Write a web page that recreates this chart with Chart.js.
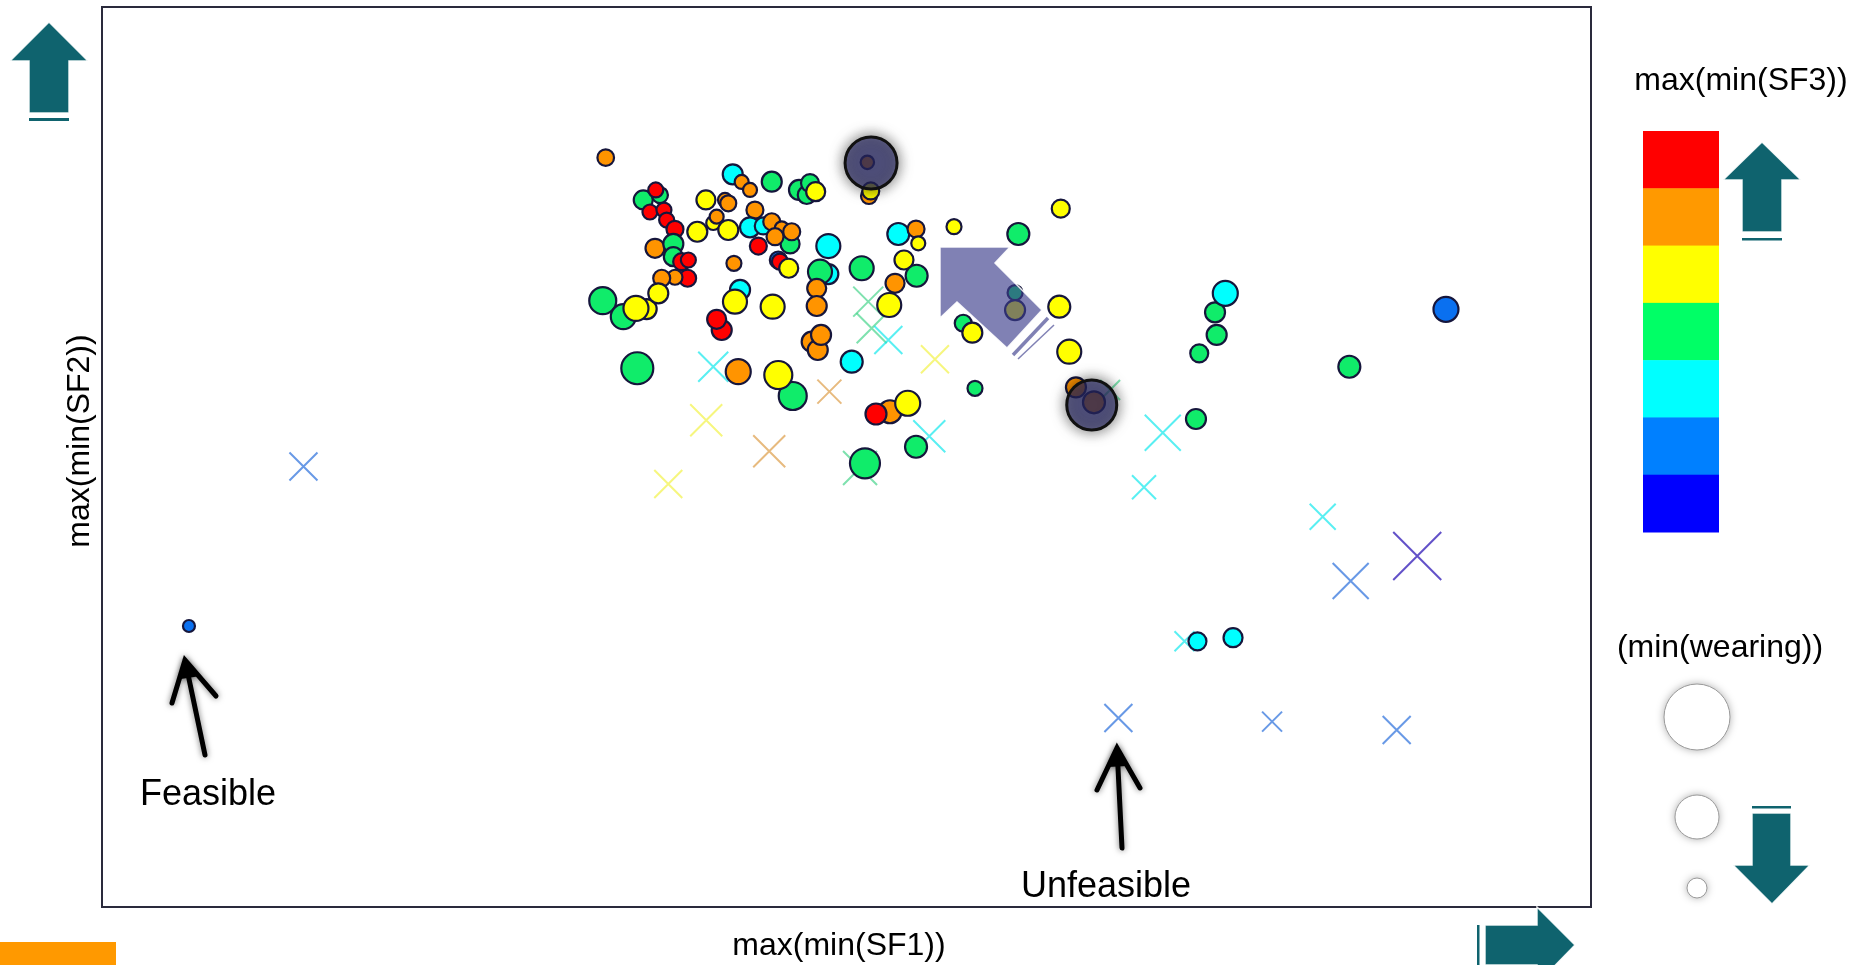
<!DOCTYPE html>
<html>
<head>
<meta charset="utf-8">
<script src="https://cdn.jsdelivr.net/npm/chart.js@4.4.1/dist/chart.umd.min.js"></script>
<style>
  html, body { margin:0; padding:0; background:#fff; overflow:hidden; }
  canvas { display:block; }
</style>
</head>
<body>
<canvas id="chart" width="1852" height="965"></canvas>
<script>
// feasible solutions (circles): SF1, SF2, wearing (size), SF3 level (colour, 1..7)
const circleSF1 = [33.83, 51.40, 51.51, 51.63, 42.36, 42.96, 43.52, 44.98, 46.81, 47.33, 47.55, 47.93,
  36.35, 37.47, 37.19, 36.80, 37.74, 37.92, 38.48, 40.56, 41.84, 42.06, 41.05, 41.28, 39.98, 42.06,
  43.85, 43.52, 44.41, 46.21, 44.98, 45.65, 46.32, 45.20, 44.08, 48.78, 53.48, 54.67, 54.82, 57.22,
  61.54, 37.14, 38.37, 38.37, 38.93, 39.38, 39.33, 38.48, 37.59, 42.44, 45.42, 45.53, 46.12, 48.78,
  48.22, 51.02, 53.86, 54.71, 53.26, 52.87, 48.00, 48.00, 42.85, 42.51, 45.04, 33.63, 35.01, 36.58,
  35.86, 37.36, 41.62, 41.28, 47.66, 48.07, 48.29, 50.35, 35.95, 42.73, 46.39, 45.42, 58.63, 52.92,
  51.98, 54.11, 54.67, 51.24, 57.84, 58.45, 61.32, 61.32, 64.39, 64.29, 64.96, 65.41, 66.62, 73.47,
  74.75, 75.44, 74.86, 73.69, 90.26, 83.77, 73.57, 75.96, 5.84];
const circleSF2 = [83.26, 82.74, 79.00, 79.56, 81.41, 80.56, 79.67, 80.59, 79.67, 79.11, 80.44, 79.48,
  78.56, 79.11, 79.67, 77.22, 77.44, 76.33, 75.30, 78.56, 78.56, 78.19, 76.00, 76.70, 75.03, 75.22,
  77.44, 75.52, 75.67, 73.67, 76.14, 75.41, 75.03, 74.48, 73.44, 73.44, 74.78, 75.33, 73.74, 75.59,
  74.78, 73.19, 73.67, 72.26, 71.70, 71.89, 69.86, 69.97, 69.86, 71.52, 71.89, 71.70, 70.97, 70.33,
  70.59, 70.97, 71.89, 70.14, 69.30, 66.89, 68.74, 66.78, 68.56, 67.26, 66.70, 67.37, 65.59, 66.44,
  66.52, 68.19, 64.11, 65.30, 62.81, 61.89, 63.56, 60.59, 59.86, 59.48, 56.78, 59.11, 57.63, 55.03,
  54.78, 55.97, 51.14, 49.30, 64.86, 63.81, 68.26, 66.33, 77.59, 66.70, 61.70, 57.74, 56.08, 54.22,
  66.08, 68.19, 63.56, 61.52, 66.41, 60.03, 29.52, 29.92, 31.22];
const circleWear = [8.3, 6.7, 8, 8.5, 10, 7, 7, 10, 10, 9, 9, 9.5,
  9.5, 8, 7.5, 7.5, 7.5, 7.5, 8.5, 9.5, 7, 8, 7, 7, 10, 10,
  8.5, 10, 8.5, 9.5, 8.5, 7, 8.5, 8.5, 8.5, 12, 11, 8.5, 7, 7.5,
  11, 9.5, 10, 9.5, 8.5, 7.5, 8.5, 7.5, 8.5, 7.5, 8.5, 8, 9.5, 10,
  12, 12, 9.5, 11, 9.5, 12, 9.5, 10, 10, 12, 12, 13.5, 12.5, 10,
  12.5, 10, 10, 9.5, 10, 10, 10, 11, 16, 12.5, 14, 14, 7.5, 11.5,
  10.5, 12.5, 11, 15, 8.5, 10, 7.5, 10, 9, 11, 12, 10, 11, 10,
  10, 12.5, 10, 9, 12.5, 11, 9, 9.5, 6];
const circleSF3 = [6, 6, 6, 5, 3, 6, 6, 4, 4, 4, 4, 5,
  4, 4, 7, 7, 7, 7, 7, 5, 6, 6, 5, 6, 5, 5,
  6, 3, 3, 4, 6, 6, 6, 6, 7, 3, 3, 6, 5, 5,
  4, 6, 4, 4, 7, 7, 7, 6, 6, 6, 2, 7, 5, 3,
  4, 4, 5, 4, 6, 5, 6, 6, 3, 5, 5, 4, 4, 5,
  5, 5, 7, 7, 6, 6, 6, 3, 4, 6, 4, 5, 4, 6,
  7, 5, 4, 4, 4, 5, 4, 5, 5, 5, 5, 6, 6, 4,
  4, 3, 4, 4, 2, 4, 3, 3, 2];

// unfeasible solutions (crosses)
const crossSF1 = [51.46, 51.69, 52.81, 55.94, 41.05, 48.85, 40.58, 44.81, 55.56, 50.91, 38.03,
  71.24, 69.98, 81.98, 83.86, 88.33, 86.95, 68.26, 78.58, 13.53, 72.70, 67.70];
const crossSF2 = [67.26, 64.30, 63.00, 60.86, 60.03, 57.26, 54.08, 50.63, 52.30, 48.78, 47.00,
  52.70, 46.63, 43.37, 36.22, 39.00, 19.67, 21.00, 20.60, 48.94, 29.52, 57.44];
const crossWear = [15, 15, 14, 14, 15, 12, 16, 16, 16, 17, 14,
  18, 12, 13, 18, 24, 14, 14, 10, 14, 10, 10];
const crossSF3 = [4, 4, 3, 5, 3, 6, 5, 6, 3, 4, 5,
  3, 3, 3, 2, 1, 2, 2, 2, 2, 3, 4];

// selected solutions
const pickSF1 = [51.65, 66.47];
const pickSF2 = [82.67, 55.78];
const pickWear = [26, 25];

// colour scale (top = high SF3)
const levelColors = ['#ff0000', '#ff9900', '#ffff00', '#00ff66', '#00ffff', '#0080ff', '#0000ff'];
const circleColors = {7:'#ff0000', 6:'#ff9400', 5:'#ffff00', 4:'#10ec6a', 3:'#00ffff', 2:'#0a70f0', 1:'#0000ff'};
const crossColors = {1:'rgba(70,50,190,0.85)', 2:'rgba(40,110,220,0.7)', 3:'rgba(0,230,235,0.65)',
  4:'rgba(40,205,120,0.6)', 5:'rgba(240,240,40,0.6)', 6:'rgba(215,140,40,0.6)', 7:'rgba(255,0,0,0.6)'};
const wearLegend = [33, 22, 10];

const TEAL = '#0f636e';
const FONT = '"Liberation Sans", Arial, sans-serif';

function polygon(ctx, pts, fill, stroke){
    ctx.beginPath();
    ctx.moveTo(pts[0][0], pts[0][1]);
    for (let i = 1; i < pts.length; i++) ctx.lineTo(pts[i][0], pts[i][1]);
    ctx.closePath();
    ctx.fillStyle = fill;
    ctx.fill();
    if (stroke){
        ctx.strokeStyle = stroke;
        ctx.lineWidth = 1.5;
        ctx.stroke();
    }
}

function handArrow(ctx, tail, tip, left, right){
    ctx.save();
    ctx.shadowColor = 'rgba(0,0,0,0.55)';
    ctx.shadowBlur = 6;
    ctx.strokeStyle = '#000';
    ctx.lineWidth = 5;
    ctx.lineCap = 'round';
    ctx.beginPath();
    ctx.moveTo(tail[0], tail[1]);
    ctx.lineTo(tip[0], tip[1]);
    ctx.moveTo(left[0], left[1]);
    ctx.lineTo(tip[0], tip[1]);
    ctx.lineTo(right[0], right[1]);
    ctx.stroke();
    // filled head near the tip
    const k = 0.45;
    polygon(ctx, [tip,
        [tip[0] + (left[0] - tip[0]) * k, tip[1] + (left[1] - tip[1]) * k],
        [tip[0] + (right[0] - tip[0]) * k, tip[1] + (right[1] - tip[1]) * k]], '#000');
    ctx.restore();
}

const decor = {
    id: 'decor',
    beforeDatasetsDraw(chart){
        const ctx = chart.ctx, a = chart.chartArea;
        ctx.save();
        ctx.strokeStyle = '#2a2a3c';
        ctx.lineWidth = 2;
        ctx.strokeRect(a.left, a.top, a.right - a.left, a.bottom - a.top);
        ctx.restore();
    },
    beforeDatasetDraw(chart, args){
        if (args.index === 0){
            chart.ctx.save();
            chart.ctx.shadowColor = 'rgba(0,0,0,0.7)';
            chart.ctx.shadowBlur = 14;
        }
    },
    afterDatasetDraw(chart, args){
        if (args.index === 0) chart.ctx.restore();
    },
    afterDatasetsDraw(chart){
        const ctx = chart.ctx;
        ctx.save();

        // big translucent arrow pointing to the best region
        const purple = 'rgba(60,62,140,0.65)';
        ctx.lineJoin = 'miter';
        polygon(ctx, [[940,247],[1010,247],[995,263],[1042,310],[1007,348],[957,302],[940,318]], purple, 'rgba(255,255,255,0.9)');
        ctx.strokeStyle = purple;
        ctx.lineWidth = 3.5;
        ctx.beginPath(); ctx.moveTo(1048,318); ctx.lineTo(1013,355); ctx.stroke();
        ctx.lineWidth = 1.5;
        ctx.beginPath(); ctx.moveTo(1054,325); ctx.lineTo(1018,359); ctx.stroke();

        // annotations
        handArrow(ctx, [205,755], [185,660], [172,703], [216,696]);
        handArrow(ctx, [1122,848], [1117,748], [1097,790], [1140,788]);
        ctx.fillStyle = '#000';
        ctx.font = '36px ' + FONT;
        ctx.textAlign = 'left';
        ctx.textBaseline = 'alphabetic';
        ctx.fillText('Feasible', 140, 805);
        ctx.fillText('Unfeasible', 1021, 897);

        // axis titles
        ctx.font = '32px ' + FONT;
        ctx.textAlign = 'center';
        ctx.fillText('max(min(SF1))', 839, 955);
        ctx.fillText('max(min(SF3))', 1741, 90);
        ctx.fillText('(min(wearing))', 1720, 657);
        ctx.save();
        ctx.translate(80, 441);
        ctx.rotate(-Math.PI / 2);
        ctx.textBaseline = 'middle';
        ctx.fillText('max(min(SF2))', 0, 0);
        ctx.restore();

        // colour bar
        const barTop = 131, segH = (532 - 131) / levelColors.length;
        levelColors.forEach((c, i) => {
            ctx.fillStyle = c;
            ctx.fillRect(1643, barTop + i * segH, 76, segH + 0.5);
        });

        // size legend
        const legY = [717, 817, 888];
        wearLegend.forEach((r, i) => {
            ctx.save();
            ctx.shadowColor = 'rgba(0,0,0,0.35)';
            ctx.shadowBlur = 9;
            ctx.beginPath();
            ctx.arc(1697, legY[i], r, 0, Math.PI * 2);
            ctx.fillStyle = '#fff';
            ctx.fill();
            ctx.restore();
            ctx.beginPath();
            ctx.arc(1697, legY[i], r, 0, Math.PI * 2);
            ctx.strokeStyle = '#9a9a9a';
            ctx.lineWidth = 1;
            ctx.stroke();
        });

        // direction arrows
        const edge = 'rgba(255,255,255,0.9)';
        polygon(ctx, [[49,22],[88,61],[69,61],[69,113],[29,113],[29,61],[10,61]], TEAL, edge);
        ctx.fillStyle = TEAL; ctx.fillRect(29, 118, 40, 3);
        polygon(ctx, [[1762,142],[1801,180],[1782,180],[1782,232],[1742,232],[1742,180],[1723,180]], TEAL, edge);
        ctx.fillStyle = TEAL; ctx.fillRect(1742, 238, 40, 2.5);
        polygon(ctx, [[1752,813],[1791,813],[1791,865],[1810,865],[1772,904],[1733,865],[1752,865]], TEAL, edge);
        ctx.fillStyle = TEAL; ctx.fillRect(1752, 806, 39, 2.5);
        polygon(ctx, [[1485,925],[1537,925],[1537,907],[1575,945],[1537,984],[1537,965],[1485,965]], TEAL, edge);
        ctx.fillStyle = TEAL; ctx.fillRect(1477, 925, 2.5, 40);

        ctx.fillStyle = '#ff9900';
        ctx.fillRect(0, 942, 116, 23);
        ctx.restore();
    }
};

const circleData = circleSF1.map((x, i) => ({x: x, y: circleSF2[i]}));
const crossData = crossSF1.map((x, i) => ({x: x, y: crossSF2[i]}));
const pickData = pickSF1.map((x, i) => ({x: x, y: pickSF2[i]}));

new Chart(document.getElementById('chart').getContext('2d'), {
    type: 'scatter',
    data: {
        datasets: [
            {
                label: 'selected',
                data: pickData,
                pointRadius: pickWear,
                backgroundColor: 'rgba(45,45,110,0.65)',
                borderColor: '#111',
                borderWidth: 3,
                order: 0
            },
            {
                label: 'feasible',
                data: circleData,
                pointRadius: circleWear,
                backgroundColor: circleSF3.map(l => circleColors[l]),
                borderColor: '#16163c',
                borderWidth: 2.2,
                order: 1
            },
            {
                label: 'unfeasible',
                data: crossData,
                pointStyle: 'crossRot',
                pointRadius: crossWear.map(s => s * Math.SQRT2),
                backgroundColor: 'rgba(0,0,0,0)',
                borderColor: crossSF3.map(l => crossColors[l]),
                borderWidth: 2,
                order: 2
            }
        ]
    },
    options: {
        responsive: false,
        devicePixelRatio: 1,
        animation: false,
        events: [],
        layout: { autoPadding: false, padding: { left: 102, top: 7, right: 261, bottom: 58 } },
        scales: {
            x: { type: 'linear', min: 0, max: 100, display: false },
            y: { type: 'linear', min: 0, max: 100, display: false }
        },
        plugins: {
            legend: { display: false },
            tooltip: { enabled: false }
        }
    },
    plugins: [decor]
});
</script>
</body>
</html>
